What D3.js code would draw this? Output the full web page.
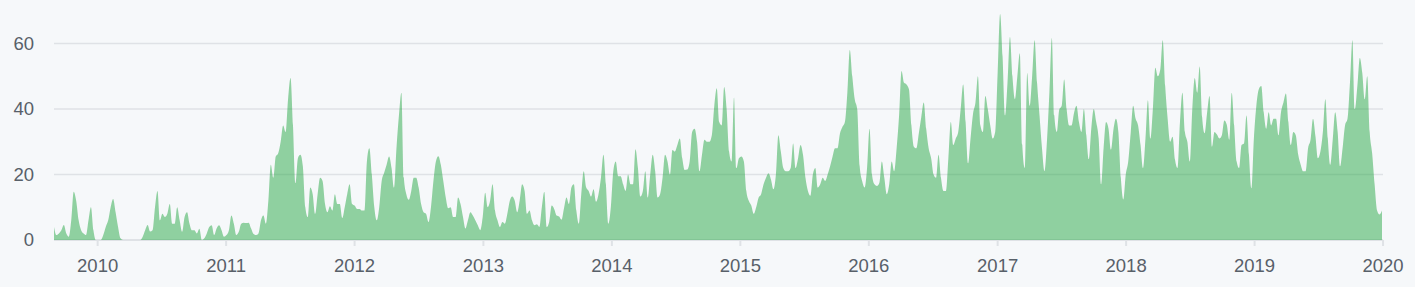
<!DOCTYPE html>
<html>
  <head>
    <meta charset="UTF-8">
    <title>Weekly commits</title>
    <style>
      html, body { margin: 0; padding: 0; background: #f6f8fa; }
      svg { display: block; }
      .tick-label { font-family: "Liberation Sans", Arial, sans-serif; font-size: 18.5px; fill: #586069; }
    </style>
  </head>
  <body>

    <svg class="chart"></svg>

    <script src="https://d3js.org/d3.v7.min.js"></script>
    <script>

/* DATA */

// first week shown (Sunday), one value per week after that
var startWeek = new Date(2009, 7, 30);

// weekly commit counts (10 per row)
var commits = [
  4,1.5,2,3,4.6,2,1,6,14.7,12,
  6,3,2,1.5,6,10,3,0,0,0,
  1.5,4,6,10,12.5,8.5,4,0.5,0,0,
  0,0,0,0,0,0,1,3,4.6,2.6,
  3,10,15,6,8,7,8,11,5,5,
  10,6,2.5,7,8.5,5,3,3,2,3.4,
  0,0.5,2,4,4.5,1.5,3.5,4.5,3,1,
  1.5,3,7.5,5,1.5,2.5,5,5.3,5.2,5.3,
  3.5,1.8,1.5,2,6,7.5,5,12,23,19,
  25.5,26.5,30,35,33,43,49.5,35,17.4,25,
  26,22.5,10,7,16,14,8,14,19,18,
  11,8.5,10.3,9,14,11,11,6.7,10,14,
  17,11,10.5,9.5,9.5,9,9,24,28,20,
  10,6,10,18,20.5,23,25.5,22,16,28,
  38,45,19,14,12.3,15,19,19,16,11,
  8.5,8,5.5,10,18,24,25.6,23,18,13,
  9.7,10,7,7,13,11,7,3.5,6,8.5,
  7.5,6,4.5,3,7,14.4,10,12,17,9,
  6,4,5.5,5,8,12,13.3,12,8.5,12,
  17,15,8,9,6,4.5,4.8,4,10,14.7,
  4,5.6,10.5,9.5,7.5,7.2,6.2,9.7,13,11,
  16,17,9,5,14,21,16,15,13.3,15.5,
  11.7,14,19,26,17,5,10,21,24,19.5,
  19.5,17,15,20,17,17,27.7,22,13.3,15,
  21,13,20,26,21,13,14,19,26,24,
  20,27.5,27,29,31,25,21.4,21.5,24,33,
  34,30,21,26,30.6,30,30,32,41,46.3,
  36,35,46.7,40,27,24,43.5,22,25,25.5,
  24,15,12,10.5,8,10,13,14,17,19,
  20.4,18.5,15.5,20,32,27,22,21,21,22,
  29.5,22,25,29,26,19,15,13.5,20,22,
  16,17,19,18,20,22.5,25.5,28,28,32.5,
  34.5,36,45,58,50,43,40,22.5,18,16,
  22,34,20,17,16.5,17.5,24,19,14,17,
  24,21,28,38,51.6,48,47.5,46,35,28.5,
  28,32.5,37.5,42,34,28,25,20,19,26,
  19,15,15,25,36,29,31,33,40,47.5,
  36,23.4,31,38.5,42,50,35,33,44,40,
  35,31,33,51,69,56,38,48,62,50,
  43,50,57,29,22,51,41,50,61,48,
  38,28,21,30,45,61.7,38,33,39.8,41,
  49,40,35,35,38.8,41,36,33,40,32,
  24.7,34,40,36,31,17,28,36,34,27.6,
  33.7,37,33,19,12.4,20,24,32.7,41,37,
  35,29,22,31,42.7,31,40,52.6,50,52,
  61,47,37,30,31.5,24.5,22,36,45,33,
  30,24,40,49.5,45,53,37.5,32.6,38.8,44,
  28.5,33,32.2,31,32,36.5,35.2,30.6,45,35,
  24,22,29,29.5,38,26,15.8,31,41,46,
  47,39,34,39,35,37,37,32,39,42,
  44.7,36,29,33,32,26,23,21,21,28,
  30.6,37,31.6,25,27,33,43,31,23,30.6,
  39,33,22.5,28,35,37,48,61,40,47,
  55.6,51,43,50,33,26.5,17,9,7.8,9
];

var yTicks = [0, 20, 40, 60];
var yearTicks = [2010, 2011, 2012, 2013, 2014, 2015, 2016, 2017, 2018, 2019, 2020];

var weeks = commits.map(function(v, i) {
  return { date: d3.timeWeek.offset(startWeek, i), value: v };
});

/* CHART */

var width = 1415,
    height = 287;

var left = 54, right = 1382, bottom = 240;

var svg = d3.select("svg")
  .attr("width", width)
  .attr("height", height);

var x = d3.scaleTime()
  .domain(d3.extent(weeks, function(d) { return d.date; }))
  .range([left, right]);

var y = d3.scaleLinear()
  .domain([0, 60])
  .range([bottom, 43.5]);

// horizontal grid lines
svg.append("g")
    .attr("class", "grid")
  .selectAll("line")
  .data(yTicks)
  .enter().append("line")
    .attr("x1", left)
    .attr("x2", right + 1)
    .attr("y1", function(d) { return y(d); })
    .attr("y2", function(d) { return y(d); })
    .attr("stroke", "#dfe2e6")
    .attr("stroke-width", function(d) { return d === 0 ? 2 : 1.5; });

// y labels
svg.append("g")
  .selectAll("text")
  .data(yTicks)
  .enter().append("text")
    .attr("class", "tick-label")
    .attr("x", 34)
    .attr("y", function(d) { return y(d); })
    .attr("dy", "0.35em")
    .attr("text-anchor", "end")
    .text(function(d) { return d; });

// the area itself
var area = d3.area()
  .curve(d3.curveMonotoneX)
  .x(function(d) { return x(d.date); })
  .y0(y(0))
  .y1(function(d) { return y(d.value); });

svg.append("path")
  .datum(weeks)
  .attr("d", area)
  .attr("fill", "#28a745")
  .attr("fill-opacity", 0.5);

// x axis ticks + year labels
var xAxis = svg.append("g").attr("class", "x-axis");

xAxis.selectAll("line")
  .data(yearTicks)
  .enter().append("line")
    .attr("x1", function(d) { return x(new Date(d, 0, 1)); })
    .attr("x2", function(d) { return x(new Date(d, 0, 1)); })
    .attr("y1", bottom)
    .attr("y2", bottom + 6)
    .attr("stroke", "#dfe2e6")
    .attr("stroke-width", 2);

xAxis.selectAll("text")
  .data(yearTicks)
  .enter().append("text")
    .attr("class", "tick-label")
    .attr("x", function(d) { return x(new Date(d, 0, 1)); })
    .attr("y", 272)
    .attr("text-anchor", "middle")
    .text(function(d) { return d; });

</script>
  </body>
</html>
